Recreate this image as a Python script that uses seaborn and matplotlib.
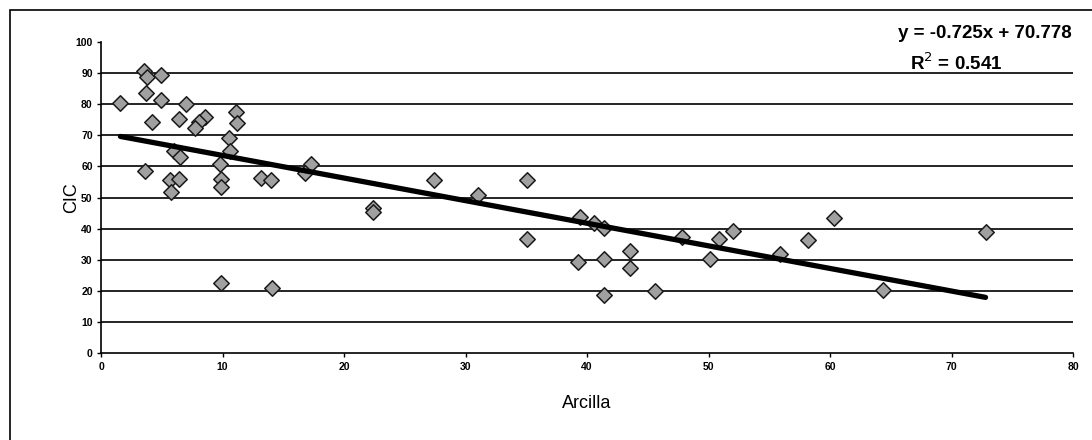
import numpy as np
import pandas as pd
import seaborn as sns
import matplotlib
matplotlib.use("Agg")
import matplotlib.pyplot as plt
from matplotlib.patches import Rectangle

# ---- data ----
arcilla = [1.6, 3.5, 3.8, 4.9, 3.7, 4.9, 7.0, 4.2, 6.4, 8.6, 8.1, 7.7,
           11.1, 11.2, 10.5, 10.6, 6.0, 6.5, 3.6, 5.7, 6.4, 5.8, 9.8, 9.9,
           9.9, 13.2, 14.0, 17.3, 16.8, 22.4, 22.4, 9.9, 14.05, 27.4, 31.0,
           35.1, 35.1, 39.4, 40.6, 41.4, 39.3, 41.4, 41.4, 43.5, 43.5, 45.6,
           47.8, 50.1, 50.9, 52.0, 55.9, 58.2, 60.3, 64.4, 72.8]
cic = [80.5, 90.5, 88.8, 89.4, 83.5, 81.4, 80.1, 74.4, 75.2, 76.0, 74.4, 72.3,
       77.3, 73.9, 69.0, 64.8, 64.8, 63.0, 58.4, 55.8, 56.0, 51.9, 60.8, 56.0,
       53.5, 56.2, 55.5, 60.8, 58.0, 46.8, 45.3, 22.5, 20.9, 55.7, 50.9,
       55.7, 36.7, 43.9, 41.8, 40.2, 29.5, 30.2, 18.8, 33.0, 27.3, 20.2,
       37.3, 30.3, 36.6, 39.3, 31.8, 36.3, 43.4, 20.5, 39.1]
slope = -0.725
intercept = 70.778
r2 = 0.541
x_ticks = [0, 10, 20, 30, 40, 50, 60, 70, 80]
y_ticks = [0, 10, 20, 30, 40, 50, 60, 70, 80, 90, 100]
x_label = "Arcilla"
y_label = "CIC"

df = pd.DataFrame({"Arcilla": arcilla, "CIC": cic})

sns.set_theme(style="white")
plt.rcParams["font.family"] = ["Liberation Sans", "DejaVu Sans"]
plt.rcParams["text.color"] = "black"
plt.rcParams["axes.labelcolor"] = "black"
plt.rcParams["xtick.color"] = "black"
plt.rcParams["ytick.color"] = "black"

narrow = ["Liberation Sans Narrow", "Liberation Sans", "DejaVu Sans"]

fig = plt.figure(figsize=(10.92, 4.4), dpi=100)
ax = fig.add_axes([0.0925, 0.1966, 0.8901, 0.7086])

# horizontal gridlines
for yv in y_ticks[1:-1]:
    ax.axhline(yv, color="black", lw=1.2, zorder=1)

sns.scatterplot(data=df, x="Arcilla", y="CIC", ax=ax, marker="D", s=62,
                color="#a0a0a0", edgecolor="#1a1a1a", linewidth=1.1, zorder=3)

xs = np.array([min(arcilla), max(arcilla)])
sns.lineplot(x=xs, y=slope * xs + intercept, ax=ax, color="black", lw=3.8, zorder=4)

ax.set_xlim(0, 80)
ax.set_ylim(0, 100)
ax.set_xticks(x_ticks)
ax.set_yticks(y_ticks)
ax.set_xticklabels([str(v) for v in x_ticks], fontsize=7.5, fontweight="bold",
                   family=narrow)
ax.set_yticklabels([str(v) for v in y_ticks], fontsize=7.5, fontweight="bold",
                   family=narrow)
ax.tick_params(axis="both", direction="out", length=3, width=1, color="black",
               pad=3, bottom=True, left=True)
for s in ["top", "right"]:
    ax.spines[s].set_visible(False)
for s in ["left", "bottom"]:
    ax.spines[s].set_color("black")
    ax.spines[s].set_linewidth(1.2)

ax.set_xlabel(x_label, fontsize=13, labelpad=17)
ax.set_ylabel(y_label, fontsize=13)
ax.yaxis.set_label_coords(-0.022, 0.5)

ax.text(0.9985, 1.0, f"y = {slope}x + {intercept}", transform=ax.transAxes,
        ha="right", va="bottom", fontsize=13.5, fontweight="bold")
ax.text(0.88, 0.898, f"R$^2$ = {r2}", transform=ax.transAxes,
        ha="center", va="bottom", fontsize=13.5, fontweight="bold")

# outer frame
fig.patches.append(Rectangle((10 / 1092, -0.2), 1.2, 1.2 - 10 / 440,
                             transform=fig.transFigure, fill=False,
                             edgecolor="black", lw=1.2))

fig.savefig("out.png", dpi=100, facecolor="white")
